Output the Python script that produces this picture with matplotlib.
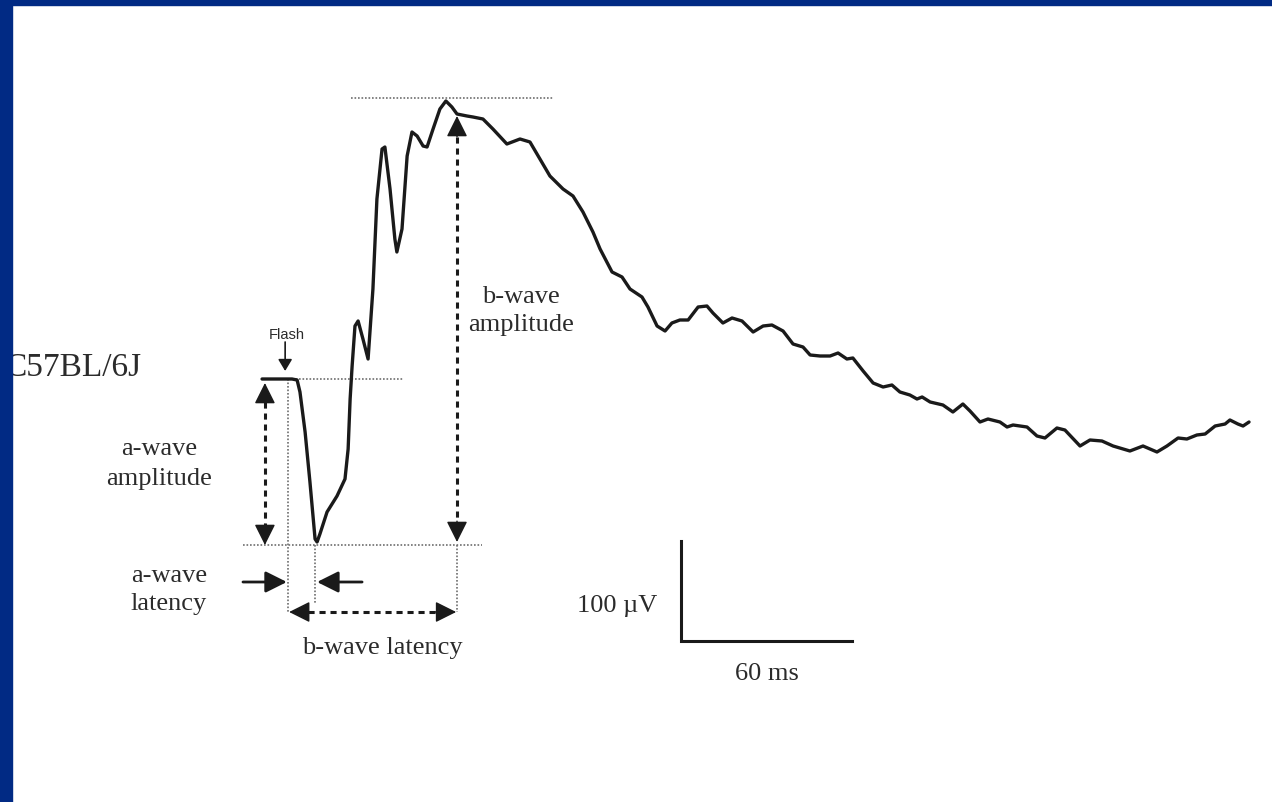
"""plot.py

Flash ERG trace of a C57BL/6J mouse with the a-wave / b-wave measurements
marked on it.
"""
import matplotlib
matplotlib.use('Agg')
from matplotlib import pyplot as plt
from matplotlib.patches import Rectangle


#
# Data (time from the flash in ms, amplitude in uV)
#
time_ms = [-9.1, 1.4, 3.2, 4.2, 6.0, 7.7, 9.5, 10.2, 11.2, 13.7, 17.2, 20.0,
           21.1, 21.8, 22.5, 23.5, 24.6, 26.3, 28.1, 29.8, 31.2, 33.0, 34.0,
           35.8, 37.5, 38.2, 40.0, 41.8, 43.5, 45.3, 47.4, 48.8, 50.9, 53.3,
           55.4, 57.5, 59.3, 62.8, 64.9, 68.4, 71.9, 76.8, 81.4, 84.9, 88.4,
           91.9, 96.5, 100.0, 103.5, 107.0, 109.5, 113.7, 117.2, 120.0, 124.2,
           126.3, 129.5, 132.3, 134.7, 137.5, 140.4, 143.9, 147.0, 149.1,
           152.6, 155.8, 159.3, 163.2, 166.7, 169.8, 173.7, 177.2, 180.7,
           183.2, 186.7, 190.2, 193.0, 196.1, 198.2, 201.8, 205.3, 208.8,
           211.9, 214.7, 218.2, 220.7, 222.5, 225.3, 229.8, 233.3, 236.8,
           239.3, 242.8, 245.6, 249.8, 252.3, 254.4, 259.3, 262.8, 265.6,
           269.8, 272.6, 277.9, 281.4, 285.6, 289.5, 295.4, 300.0, 304.9,
           308.4, 312.3, 315.4, 318.9, 321.8, 325.3, 328.8, 330.5, 333.3,
           335.1, 337.2]
erg_uV = [0, 0, -1, -13, -53, -103, -160, -163, -155, -133, -117, -100,
          -70, -20, 13, 53, 58, 40, 20, 90, 180, 230, 232,
          190, 140, 127, 150, 223, 247, 243, 233, 232, 250, 270,
          278, 272, 265, 263, 262, 260, 250, 235, 240, 237, 220,
          203, 190, 183, 167, 147, 130, 107, 102, 90, 82,
          72, 53, 48, 56, 59, 59, 72, 73, 66,
          56, 61, 58, 47, 53, 54, 48, 35, 32,
          24, 23, 23, 26, 20, 21, 8, -4, -8,
          -6, -13, -16, -20, -18, -23, -26, -33, -25,
          -32, -43, -40, -43, -48, -46, -48, -57, -59,
          -49, -51, -67, -61, -62, -67, -72, -67, -73,
          -67, -59, -60, -56, -55, -47, -45, -41, -45,
          -47, -43]

# measurement markers (ms / uV)
a_trough_t = 10.2
a_trough_v = -166
b_peak_v = 281
b_mark_t = 59.3
b_mark_top = 263
bar_t, bar_v = 137.9, -262      # corner of the scale bar
bar_ms, bar_uV = 60, 100


#
# Plot
#
ink = '#1a1a1a'
txt = '#2b2b2b'
dot = '#6e6e6e'
serif = ['Liberation Serif', 'DejaVu Serif']

fig = plt.figure(figsize=(12.72, 8.03), dpi=100)
ax = fig.add_axes([0, 0, 1, 1])
ax.set_xlim(-101.05, 345.26)
ax.set_ylim(-423, 380)
ax.axis('off')

## trace
ax.plot(time_ms, erg_uV, '-', color=ink, lw=2.4, solid_joinstyle='round',
        solid_capstyle='round', zorder=3)

## dotted guide lines
dotted = dict(color=dot, lw=1.2, ls=(0, (1, 1.1)), zorder=2)
ax.plot([1.4, 40.4], [0, 0], **dotted)
ax.plot([-15.8, 68.1], [a_trough_v, a_trough_v], **dotted)
ax.plot([22.1, 93.0], [b_peak_v, b_peak_v], **dotted)
ax.plot([0, 0], [0, -233], **dotted)
ax.plot([a_trough_t - 0.7, a_trough_t - 0.7], [a_trough_v, -225], **dotted)
ax.plot([b_mark_t, b_mark_t], [a_trough_v, -233], **dotted)

## dashed double arrows
dashed = dict(color=ink, lw=2.2, ls=(0, (2, 1.6)), zorder=2)
head = dict(arrowstyle='-|>,head_length=0.5,head_width=0.25', color=ink,
            lw=1, mutation_scale=26, shrinkA=0, shrinkB=0)


def tip(x, y, dx, dy):
    ax.annotate('', xy=(x, y), xytext=(dx, dy), textcoords='offset points',
                arrowprops=head)


# a-wave amplitude
ax.plot([-8.1, -8.1], [-12, a_trough_v + 8], **dashed)
tip(-8.1, -4, 0, -15)
tip(-8.1, a_trough_v, 0, 15)

# b-wave amplitude
ax.plot([b_mark_t, b_mark_t], [b_mark_top - 10, -155], **dashed)
tip(b_mark_t, b_mark_top, 0, -15)
tip(b_mark_t, -163, 0, 15)

# b-wave latency
ax.plot([3.0, b_mark_t - 3], [-233, -233], **dashed)
tip(0.4, -233, 15, 0)
tip(b_mark_t - 0.3, -233, -15, 0)

# a-wave latency
ax.annotate('', xy=(-0.4, -203), xytext=(-15.8, -203),
            arrowprops=dict(head, lw=2))
ax.annotate('', xy=(a_trough_t, -203), xytext=(26.0, -203),
            arrowprops=dict(head, lw=2))

# flash
ax.annotate('', xy=(-1.0, 8), xytext=(-1.0, 37),
            arrowprops=dict(arrowstyle='-|>,head_length=0.5,head_width=0.3',
                            color=ink, lw=1.2, mutation_scale=14,
                            shrinkA=0, shrinkB=0))
ax.text(-0.4, 45, 'Flash', fontsize=10.5, color=txt, ha='center',
        va='center', family=['Liberation Sans', 'DejaVu Sans'])

## scale bar
ax.plot([bar_t, bar_t, bar_t + bar_ms], [bar_v + bar_uV, bar_v, bar_v],
        '-', color=ink, lw=2.2, solid_joinstyle='miter')
ax.text(115.4, -226, u'100 \u00b5V', fontsize=19, color=txt, ha='center',
        va='center', family=serif)
ax.text(bar_t + bar_ms / 2, -294, '60 ms', fontsize=19, color=txt,
        ha='center', va='center', family=serif)

## labels
ax.text(-99.3, 12, 'C57BL/6J', fontsize=24, color=txt, ha='left',
        va='center', family=serif)
ax.text(-45.3, -84, 'a-wave\namplitude', fontsize=19, color=txt,
        ha='center', va='center', linespacing=1.45, family=serif)
ax.text(-41.8, -210, 'a-wave\nlatency', fontsize=19, color=txt,
        ha='center', va='center', linespacing=1.35, family=serif)
ax.text(81.8, 69, 'b-wave\namplitude', fontsize=19, color=txt,
        ha='center', va='center', linespacing=1.3, family=serif)
ax.text(33.0, -268, 'b-wave latency', fontsize=19, color=txt,
        ha='center', va='center', family=serif)

## slide frame
blue = '#012a84'
fig.patches.append(Rectangle((0, 1 - 6 / 803), 1, 6 / 803, color=blue,
                             transform=fig.transFigure, zorder=10))
fig.patches.append(Rectangle((0, 0), 12 / 1272, 1, color=blue,
                             transform=fig.transFigure, zorder=10))

plt.savefig('out.png', dpi=100)
